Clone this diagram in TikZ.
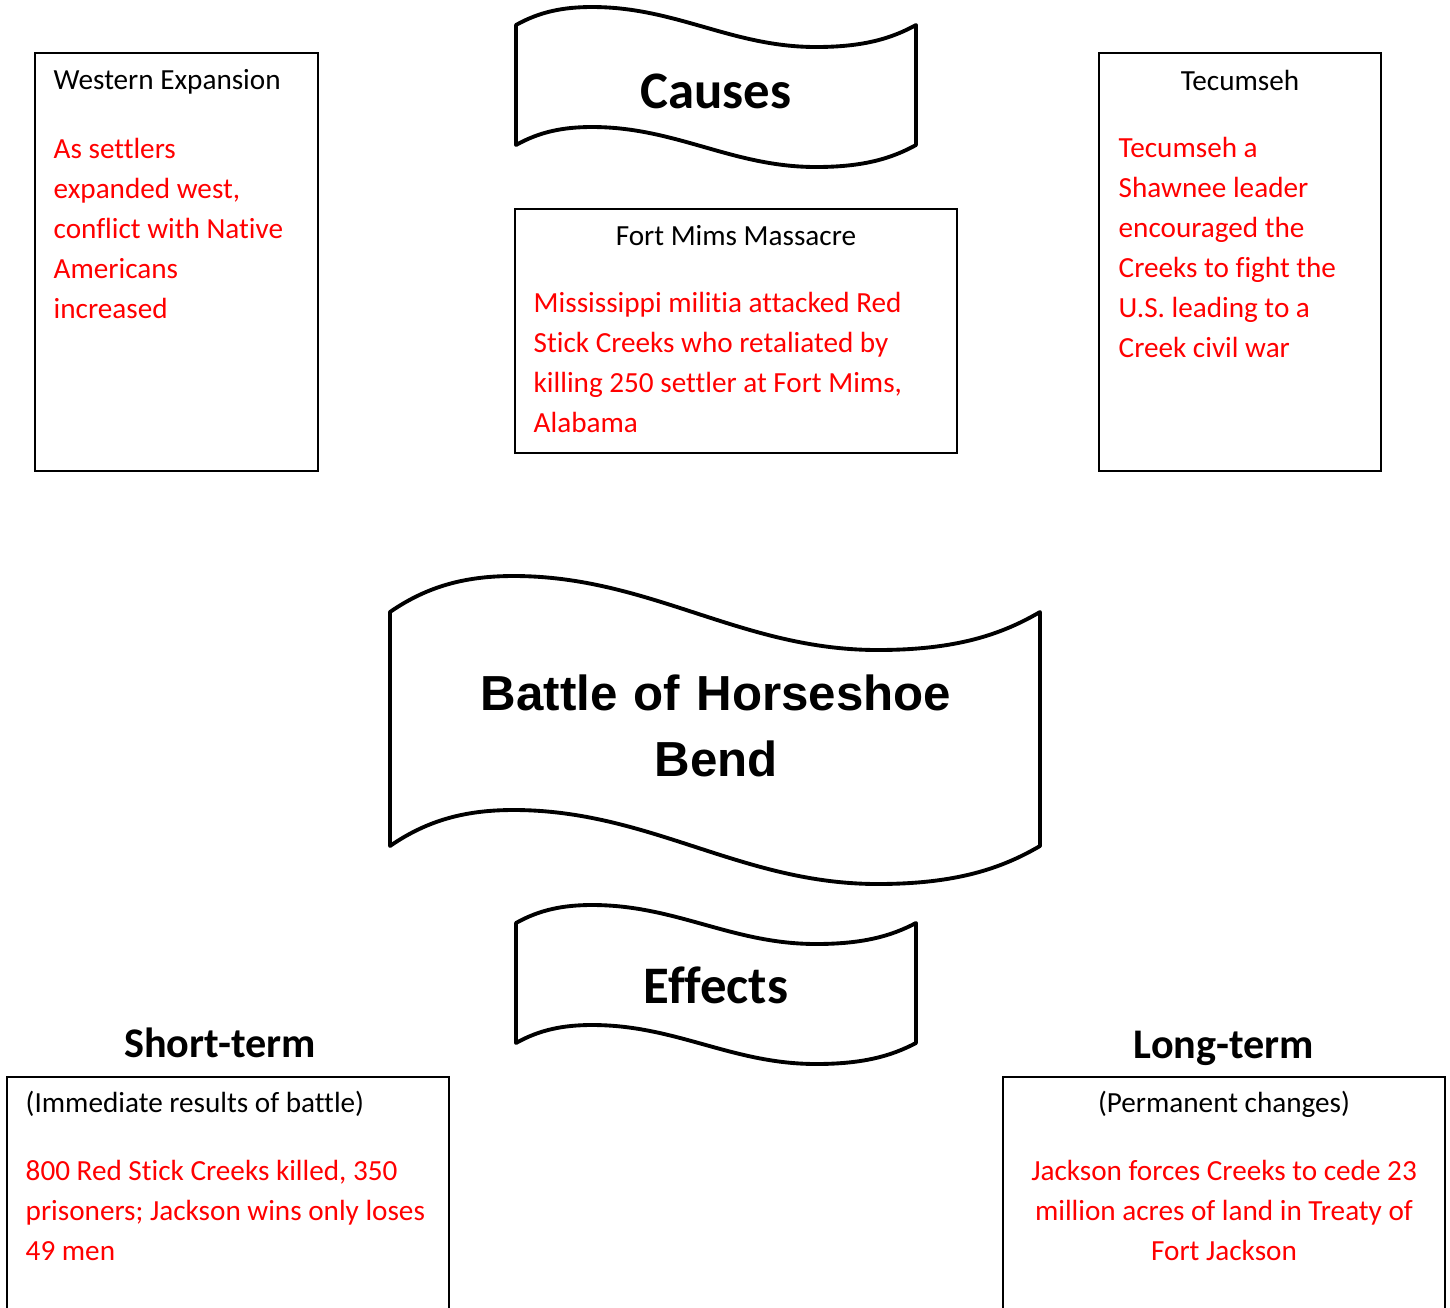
\documentclass[tikz,border=0pt]{standalone}
\usepackage{tikz}
\usepackage{fontspec}
\setmainfont{Carlito}[Ligatures=NoCommon]
\newfontfamily\arialfont{Liberation Sans}

\tikzset{
  box/.style={line width=0.6pt},
  banner/.style={line width=1.1pt, line join=round},
  head/.style={font=\fontsize{8.3}{11.4}\selectfont, inner sep=0pt},
  note/.style={head, text=red, text width=#1, align=left,
    execute at begin node={\spaceskip=\fontdimen2\font\xspaceskip=\fontdimen2\font}},
  note/.default=4.2cm,
  bannertitle/.style={font=\bfseries\fontsize{15}{18}\selectfont, inner sep=0pt},
  termtitle/.style={font=\bfseries\fontsize{12}{14}\selectfont, inner sep=0pt},
}

\begin{document}
\begin{tikzpicture}[x=0.01cm, y=-0.01cm]
\useasboundingbox (0,0) rectangle (1450,1308);

% draw boxes
\foreach \xa/\ya/\xb/\yb in {35/53/318/471, 515/209/957/453, 1099/53/1381/471, 7/1077/449/1340, 1003/1077/1445/1340}{
	\draw[box] (\xa,\ya) rectangle (\xb,\yb);
}

% draw banners (left x, top y, width, height, rise, dip)
\foreach \x/\y/\w/\h/\a/\b in {516/25/400/120/18/22, 516/923/400/120/18/21, 390/612/650/234/36/38}{
	\draw[banner, fill=white] (\x,\y)
	  .. controls ({\x+0.06*\w},{\y-0.75*\a}) and ({\x+0.12*\w},{\y-\a}) .. ({\x+0.19*\w},{\y-\a})
	  .. controls ({\x+0.40*\w},{\y-\a}) and ({\x+0.54*\w},{\y+\b}) .. ({\x+0.75*\w},{\y+\b})
	  .. controls ({\x+0.87*\w},{\y+\b}) and ({\x+0.94*\w},{\y+0.6*\b}) .. ({\x+\w},{\y})
	  -- ({\x+\w},{\y+\h})
	  .. controls ({\x+0.94*\w},{\y+\h+0.6*\b}) and ({\x+0.87*\w},{\y+\h+\b}) .. ({\x+0.75*\w},{\y+\h+\b})
	  .. controls ({\x+0.54*\w},{\y+\h+\b}) and ({\x+0.40*\w},{\y+\h-\a}) .. ({\x+0.19*\w},{\y+\h-\a})
	  .. controls ({\x+0.12*\w},{\y+\h-\a}) and ({\x+0.06*\w},{\y+\h-0.75*\a}) .. (\x,{\y+\h})
	  -- cycle;
}

% banner text
\node[bannertitle, anchor=base] (causes) at (716,108) {Causes};
\node[bannertitle, anchor=base] (effects) at (716,1003) {Effects};
\node[inner sep=0pt, anchor=base, text width=6cm, align=center,
      font=\arialfont\bfseries\fontsize{14}{18.8}\selectfont] (battle) at (716,710) {Battle of\,\,Horseshoe\\Bend};

% causes
\node[head, anchor=base west] (westhead) at (53,89) {Western Expansion};
\node[note=2.6cm, anchor=base west] (westtext) at (53,158) {As settlers\\expanded west,\\conflict with Native\\Americans\\increased};

\node[head, anchor=base] (mimshead) at (736,245) {Fort Mims Massacre};
\node[note, anchor=base west] (mimstext) at (533,312) {Mississippi militia attacked Red\\Stick Creeks who retaliated by\\killing 250 settler at Fort Mims,\\Alabama};

\node[head, anchor=base] (tecumhead) at (1240,90) {Tecumseh};
\node[note=2.5cm, anchor=base west] (tecumtext) at (1118,157) {Tecumseh a\\Shawnee leader\\encouraged the\\Creeks to fight the\\U.S. leading to a\\Creek civil war};

% effects
\node[termtitle, anchor=base] (shortterm) at (220,1057) {Short-term};
\node[head, anchor=base west] (shorthead) at (25,1112) {(Immediate results of battle)};
\node[note, anchor=base west] (shorttext) at (25,1180) {800 Red Stick Creeks killed, 350\\prisoners; Jackson wins only loses\\49 men};

\node[termtitle, anchor=base] (longterm) at (1224,1058) {Long-term};
\node[head, anchor=base] (longhead) at (1224,1112) {(Permanent changes)};
\node[note, align=center, anchor=base] (longtext) at (1224,1180) {Jackson forces Creeks to cede 23\\million acres of land in Treaty of\\Fort Jackson};
\end{tikzpicture}
\end{document}
